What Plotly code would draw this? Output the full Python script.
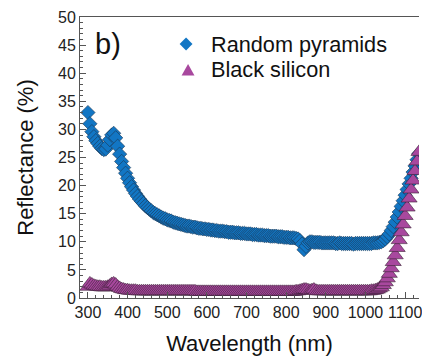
import plotly.graph_objects as go

wavelength = [
    300, 305, 310, 315, 320, 325, 330, 335, 340, 345,
    350, 355, 360, 365, 370, 375, 380, 385, 390, 395,
    400, 405, 410, 415, 420, 425, 430, 435, 440, 445,
    450, 455, 460, 465, 470, 475, 480, 485, 490, 495,
    500, 505, 510, 515, 520, 525, 530, 535, 540, 545,
    550, 555, 560, 565, 570, 575, 580, 585, 590, 595,
    600, 605, 610, 615, 620, 625, 630, 635, 640, 645,
    650, 655, 660, 665, 670, 675, 680, 685, 690, 695,
    700, 705, 710, 715, 720, 725, 730, 735, 740, 745,
    750, 755, 760, 765, 770, 775, 780, 785, 790, 795,
    800, 805, 810, 815, 820, 825, 830, 835, 840, 845,
    850, 855, 860, 865, 870, 875, 880, 885, 890, 895,
    900, 905, 910, 915, 920, 925, 930, 935, 940, 945,
    950, 955, 960, 965, 970, 975, 980, 985, 990, 995,
    1000, 1005, 1010, 1015, 1020, 1025, 1030, 1035, 1040, 1045,
    1050, 1055, 1060, 1065, 1070, 1075, 1080, 1085, 1090, 1095,
    1100, 1105, 1110, 1115, 1120, 1125, 1130, 1135,
]

random_pyramids = [
    33.0, 31.0, 29.6, 28.7, 28.0, 27.5, 27.0, 26.6, 26.4, 26.5,
    27.2, 28.2, 29.0, 29.3, 28.5, 27.0, 25.6, 24.3, 23.2, 22.2,
    21.3, 20.5, 19.8, 19.2, 18.6, 18.1, 17.6, 17.2, 16.8, 16.4,
    16.1, 15.8, 15.5, 15.2, 15.0, 14.8, 14.6, 14.4, 14.2, 14.1,
    13.9, 13.8, 13.7, 13.5, 13.4, 13.3, 13.2, 13.1, 13.0, 12.9,
    12.8, 12.8, 12.7, 12.6, 12.6, 12.5, 12.4, 12.4, 12.3, 12.3,
    12.2, 12.2, 12.1, 12.1, 12.0, 12.0, 11.9, 11.9, 11.9, 11.8,
    11.8, 11.7, 11.7, 11.7, 11.6, 11.6, 11.6, 11.5, 11.5, 11.5,
    11.4, 11.4, 11.4, 11.3, 11.3, 11.3, 11.2, 11.2, 11.2, 11.1,
    11.1, 11.1, 11.0, 11.0, 11.0, 11.0, 10.9, 10.9, 10.9, 10.8,
    10.8, 10.8, 10.7, 10.7, 10.7, 10.6, 10.5, 10.2, 9.6, 8.6,
    9.2, 9.8, 10.0, 10.0, 9.9, 9.9, 9.9, 9.9, 9.8, 9.8,
    9.8, 9.8, 9.8, 9.8, 9.8, 9.7, 9.7, 9.8, 9.7, 9.7,
    9.7, 9.7, 9.7, 9.7, 9.6, 9.7, 9.7, 9.7, 9.7, 9.7,
    9.7, 9.7, 9.7, 9.7, 9.8, 9.8, 9.8, 9.9, 10.0, 10.2,
    10.5, 10.9, 11.4, 12.0, 12.7, 13.5, 14.4, 15.3, 16.3, 17.3,
    18.3, 19.3, 20.3, 21.3, 22.4, 23.5, 24.6, 25.7,
]

black_silicon = [
    2.0, 2.6, 2.4, 2.2, 2.1, 2.0, 2.0, 1.9, 1.9, 1.9,
    2.0, 2.2, 2.5, 2.6, 2.4, 2.0, 1.8, 1.6, 1.5, 1.4,
    1.4, 1.3, 1.3, 1.3, 1.3, 1.2, 1.2, 1.2, 1.2, 1.2,
    1.2, 1.2, 1.2, 1.2, 1.2, 1.2, 1.2, 1.2, 1.2, 1.2,
    1.2, 1.2, 1.2, 1.2, 1.2, 1.2, 1.2, 1.2, 1.2, 1.2,
    1.2, 1.2, 1.2, 1.2, 1.2, 1.1, 1.1, 1.1, 1.1, 1.1,
    1.1, 1.1, 1.1, 1.1, 1.1, 1.1, 1.1, 1.1, 1.1, 1.1,
    1.1, 1.1, 1.1, 1.1, 1.1, 1.1, 1.1, 1.1, 1.1, 1.1,
    1.1, 1.1, 1.1, 1.1, 1.1, 1.1, 1.1, 1.1, 1.1, 1.1,
    1.1, 1.1, 1.1, 1.1, 1.1, 1.1, 1.1, 1.1, 1.1, 1.1,
    1.1, 1.1, 1.1, 1.1, 1.1, 1.2, 1.2, 1.3, 1.4, 1.5,
    1.5, 1.4, 1.3, 1.4, 1.5, 1.3, 1.2, 1.2, 1.2, 1.2,
    1.2, 1.2, 1.2, 1.2, 1.2, 1.2, 1.2, 1.2, 1.2, 1.2,
    1.2, 1.2, 1.2, 1.2, 1.2, 1.2, 1.2, 1.2, 1.2, 1.2,
    1.2, 1.2, 1.2, 1.3, 1.3, 1.4, 1.5, 1.7, 1.9, 2.3,
    2.8, 3.5, 4.3, 5.3, 6.4, 7.6, 8.9, 10.3, 11.7, 13.1,
    14.6, 16.1, 17.7, 19.3, 20.9, 22.6, 24.3, 26.0,
]

series_names = ["Random pyramids", "Black silicon"]
x_tick_values = [300, 400, 500, 600, 700, 800, 900, 1000, 1100]
y_tick_values = [0, 5, 10, 15, 20, 25, 30, 35, 40, 45, 50]

FONT = "Liberation Sans, Arial, sans-serif"
AXIS_COLOR = "#555555"
BLUE = "#1276c4"
PURPLE = "#a8489e"

W, H = 422, 356
ML, MR, MT, MB = 80, 0, 17, 58
PW, PH = W - ML - MR, H - MT - MB


def px(x):
    return (x - ML) / PW


def py(y):
    return (H - MB - y) / PH


fig = go.Figure()
fig.add_trace(go.Scatter(
    x=wavelength, y=random_pyramids, mode="markers", name=series_names[0],
    marker=dict(symbol="diamond", size=11, color=BLUE,
                line=dict(color="#1d3550", width=0.6)),
))
fig.add_trace(go.Scatter(
    x=wavelength, y=black_silicon, mode="markers", name=series_names[1],
    marker=dict(symbol="triangle-up", size=14, color=PURPLE,
                line=dict(color="#3a2035", width=0.6)),
))

# legend (drawn manually for tighter spacing)
dcx, dcy = 187, 44
tcx, tcy = 189, 70
shapes = [
    dict(type="path", xref="paper", yref="paper",
         path=(f"M {px(dcx - 6.5)} {py(dcy)} L {px(dcx)} {py(dcy - 6.5)} "
               f"L {px(dcx + 6.5)} {py(dcy)} L {px(dcx)} {py(dcy + 6.5)} Z"),
         fillcolor=BLUE, line=dict(width=0)),
    dict(type="path", xref="paper", yref="paper",
         path=(f"M {px(tcx - 6.5)} {py(tcy + 5.5)} L {px(tcx)} {py(tcy - 6)} "
               f"L {px(tcx + 6.5)} {py(tcy + 5.5)} Z"),
         fillcolor=PURPLE, line=dict(width=0)),
]

annotations = [
    dict(text="b)", xref="paper", yref="paper", x=px(93), y=py(44),
         xanchor="left", yanchor="middle", showarrow=False,
         font=dict(size=29, family=FONT, color="#111111")),
    dict(text=series_names[0], xref="paper", yref="paper", x=px(210), y=py(44),
         xanchor="left", yanchor="middle", showarrow=False,
         font=dict(size=21.7, family=FONT, color="#111111")),
    dict(text=series_names[1], xref="paper", yref="paper", x=px(210), y=py(70),
         xanchor="left", yanchor="middle", showarrow=False,
         font=dict(size=21.7, family=FONT, color="#111111")),
]

fig.update_layout(
    width=W, height=H,
    margin=dict(l=ML, r=MR, t=MT, b=MB),
    paper_bgcolor="white", plot_bgcolor="white",
    font=dict(family=FONT, color="#222222"),
    showlegend=False,
    shapes=shapes,
    annotations=annotations,
)

fig.update_xaxes(
    range=[280, 1135], tickvals=x_tick_values,
    ticks="inside", ticklen=6, tickwidth=1, tickcolor=AXIS_COLOR,
    minor=dict(dtick=20, ticks="inside", ticklen=3, tickcolor=AXIS_COLOR, showgrid=False),
    showline=True, linecolor=AXIS_COLOR, linewidth=1, mirror=True,
    showgrid=False, zeroline=False, ticklabeloverflow="allow",
    tickfont=dict(size=16, family=FONT, color="#222222"),
    title=dict(text="Wavelength (nm)", font=dict(size=22, family=FONT, color="#111111"), standoff=16),
)
fig.update_yaxes(
    range=[0, 50], tickvals=y_tick_values,
    ticks="inside", ticklen=6, tickwidth=1, tickcolor=AXIS_COLOR,
    minor=dict(dtick=1, ticks="inside", ticklen=3, tickcolor=AXIS_COLOR, showgrid=False),
    showline=True, linecolor=AXIS_COLOR, linewidth=1, mirror=False,
    showgrid=False, zeroline=False,
    tickfont=dict(size=16, family=FONT, color="#222222"),
    title=dict(text="Reflectance (%)", font=dict(size=22, family=FONT, color="#111111"), standoff=18),
)

fig.write_html(
    "out.html",
    config={"displayModeBar": False},
    post_script="document.body.style.margin='0';document.body.style.overflow='hidden';",
)
